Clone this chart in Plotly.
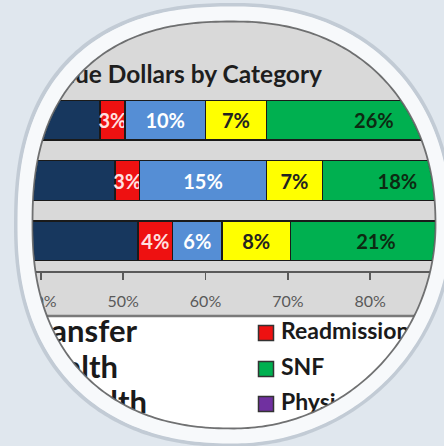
import numpy as np
import plotly.graph_objects as go

W, H = 444, 446

# ---------------- data ----------------
groups = ["Group 1", "Group 2", "Group 3"]
series_names = ["Acute Transfer", "Readmission", "Home Health", "Mental Health", "SNF"]
navy_vals = [47.2, 49.0, 51.8]
red_vals = [3.0, 3.0, 4.2]
blue_vals = [9.8, 15.4, 6.0]
yellow_vals = [7.4, 6.8, 8.3]
green_vals = [26.1, 18.2, 20.8]
tick_values = [30, 40, 50, 60, 70, 80, 90]
tick_labels = ["30%", "40%", "50%", "60%", "70%", "80%", "90%"]
title_text = "Revenue Dollars by Category"
legend_left = ["Acute Transfer", "Home Health", "Mental Health"]
legend_right = ["Readmission", "SNF", "Physician"]

# ---------------- styles ----------------
BG = "#e0e7ee"
colors = ["#17375e", "#ee1111", "#558ed5", "#ffff00", "#00b050"]
label_colors = [None, "#ffe0e0", "#ffffff", "#222222", "#0d2a12"]
legend_left_colors = ["#17375e", "#558ed5", "#ffff00"]
legend_right_colors = ["#ee1111", "#00b050", "#7030a0"]
FONT = "Lato"

# pixel mapping of the value axis (50% at x=123, 10% = 82.33 px)
px50, px_per_pct = 123.2, 8.233
x_lo = 50 - px50 / px_per_pct
x_hi = x_lo + W / px_per_pct

fig = go.Figure()
all_vals = [navy_vals, red_vals, blue_vals, yellow_vals, green_vals]
for i, (name, vals) in enumerate(zip(series_names, all_vals)):
    fig.add_trace(go.Bar(
        y=groups, x=vals, orientation="h", name=name,
        marker=dict(color=colors[i], line=dict(color="#1a1a1a", width=1.5)),
        texttemplate=None if i == 0 else "%{x:.0f}%",
        textposition="none" if i == 0 else "inside",
        insidetextanchor="middle", textangle=0, constraintext="none",
        textfont=dict(family=FONT, size=20, weight="bold",
                      color=label_colors[i] or "#ffffff"),
        showlegend=False, hoverinfo="skip", xaxis="x", yaxis="y",
    ))

# title and legend on a pixel-space overlay subplot
fig.add_trace(go.Scatter(
    x=[322], y=[77], mode="text", text=[title_text], textposition="middle left",
    textfont=dict(family=FONT, size=24.5, weight="bold", color="#1e1e1e"),
    xaxis="x2", yaxis="y2", showlegend=False, hoverinfo="skip", cliponaxis=False))

fig.add_trace(go.Scatter(
    x=[137, 118, 147], y=[334, 370, 405], mode="text", text=legend_left,
    textposition="middle left",
    textfont=dict(family=FONT, size=31, weight="bold", color="#1a1a1a"),
    xaxis="x2", yaxis="y2", showlegend=False, hoverinfo="skip"))
fig.add_trace(go.Scatter(
    x=[-80, -80, -80], y=[334, 370, 405], mode="markers",
    marker=dict(symbol="square", size=15, color=legend_left_colors,
                line=dict(color="#333333", width=1.5)),
    xaxis="x2", yaxis="y2", showlegend=False, hoverinfo="skip"))
leg_y = [333, 369, 404]
fig.add_trace(go.Scatter(
    x=[266, 266, 266], y=leg_y, mode="markers",
    marker=dict(symbol="square", size=15, color=legend_right_colors,
                line=dict(color="#333333", width=1.5)),
    xaxis="x2", yaxis="y2", showlegend=False, hoverinfo="skip"))
fig.add_trace(go.Scatter(
    x=[281, 281, 281], y=leg_y, mode="text", text=legend_right,
    textposition="middle right",
    textfont=dict(family=FONT, size=23, weight="bold", color="#1a1a1a"),
    xaxis="x2", yaxis="y2", showlegend=False, hoverinfo="skip"))

# ---------------- lens geometry (superellipse, per-quadrant exponent) ----------------
def px(x):
    return x / W

def py(y):
    return 1 - y / H

CX, CY, RX, RY = 234, 225, 201, 203
N_TL, N_TR, N_BL, N_BR = 2.45, 2.2, 2.3, 2.0

def lens_path(dr=0.0, n=360):
    t = np.linspace(0, 2 * np.pi, n, endpoint=False)
    c, s = np.cos(t), np.sin(t)
    ex = np.where(s < 0, np.where(c < 0, N_TL, N_TR), np.where(c < 0, N_BL, N_BR))
    xs = CX + (RX + dr) * np.sign(c) * np.abs(c) ** (2 / ex)
    ys = CY + (RY + dr) * np.sign(s) * np.abs(s) ** (2 / ex)
    pts = [f"{px(a):.5f},{py(b):.5f}" for a, b in zip(xs, ys)]
    return "M " + " L ".join(pts) + " Z"

shapes = [
    # chart area background (gray) and legend area (white)
    dict(type="rect", xref="paper", yref="paper", x0=0, x1=1, y0=py(316), y1=1,
         fillcolor="#d9d9d9", line=dict(width=0), layer="below"),
    dict(type="rect", xref="paper", yref="paper", x0=0, x1=1, y0=0, y1=py(316),
         fillcolor="#ffffff", line=dict(width=0), layer="below"),
    dict(type="line", xref="paper", yref="paper", x0=0, x1=1, y0=py(316), y1=py(316),
         line=dict(color="#7a7a7a", width=2.5), layer="below"),
    # mask outside the lens
    dict(type="path", xref="paper", yref="paper",
         path="M -0.2,-0.2 L 1.2,-0.2 L 1.2,1.2 L -0.2,1.2 Z " + lens_path(),
         fillrule="evenodd", fillcolor=BG, line=dict(width=0), layer="above"),
    # outer soft shadow, white rim, inner dark edge
    dict(type="path", xref="paper", yref="paper", path=lens_path(17),
         line=dict(color="rgba(150,162,175,0.4)", width=4), layer="above"),
    dict(type="path", xref="paper", yref="paper", path=lens_path(8),
         line=dict(color="#f7f9fb", width=15), layer="above"),
    dict(type="path", xref="paper", yref="paper", path=lens_path(0.5),
         line=dict(color="rgba(70,70,70,0.75)", width=1.8), layer="above"),
]

fig.update_layout(
    width=W, height=H, margin=dict(l=0, r=0, t=0, b=0, autoexpand=False),
    paper_bgcolor=BG, plot_bgcolor="rgba(0,0,0,0)",
    barmode="stack", bargap=0.34,
    shapes=shapes,
    xaxis=dict(domain=[0, 1], range=[x_lo, x_hi], anchor="y", automargin=False,
               tickvals=tick_values, ticktext=tick_labels,
               showline=True, linecolor="#5a5a5a", linewidth=2,
               ticks="outside", ticklen=7, tickwidth=1.5, tickcolor="#5a5a5a",
               ticklabelstandoff=8,
               showgrid=False, zeroline=False,
               tickfont=dict(family=FONT, size=16, color="#595959")),
    yaxis=dict(domain=[(H - 271) / H, (H - 90) / H], anchor="x", automargin=False,
               categoryorder="array", categoryarray=groups, autorange="reversed",
               showticklabels=False, showgrid=False, zeroline=False, showline=False),
    xaxis2=dict(domain=[0, 1], range=[0, W], visible=False, anchor="y2"),
    yaxis2=dict(domain=[0, 1], range=[H, 0], visible=False, anchor="x2"),
    showlegend=False,
)

fig.write_html(
    "out.html",
    config={"displayModeBar": False, "staticPlot": True},
    post_script="document.body.style.margin='0';"
                "document.body.style.background='" + BG + "';",
)
